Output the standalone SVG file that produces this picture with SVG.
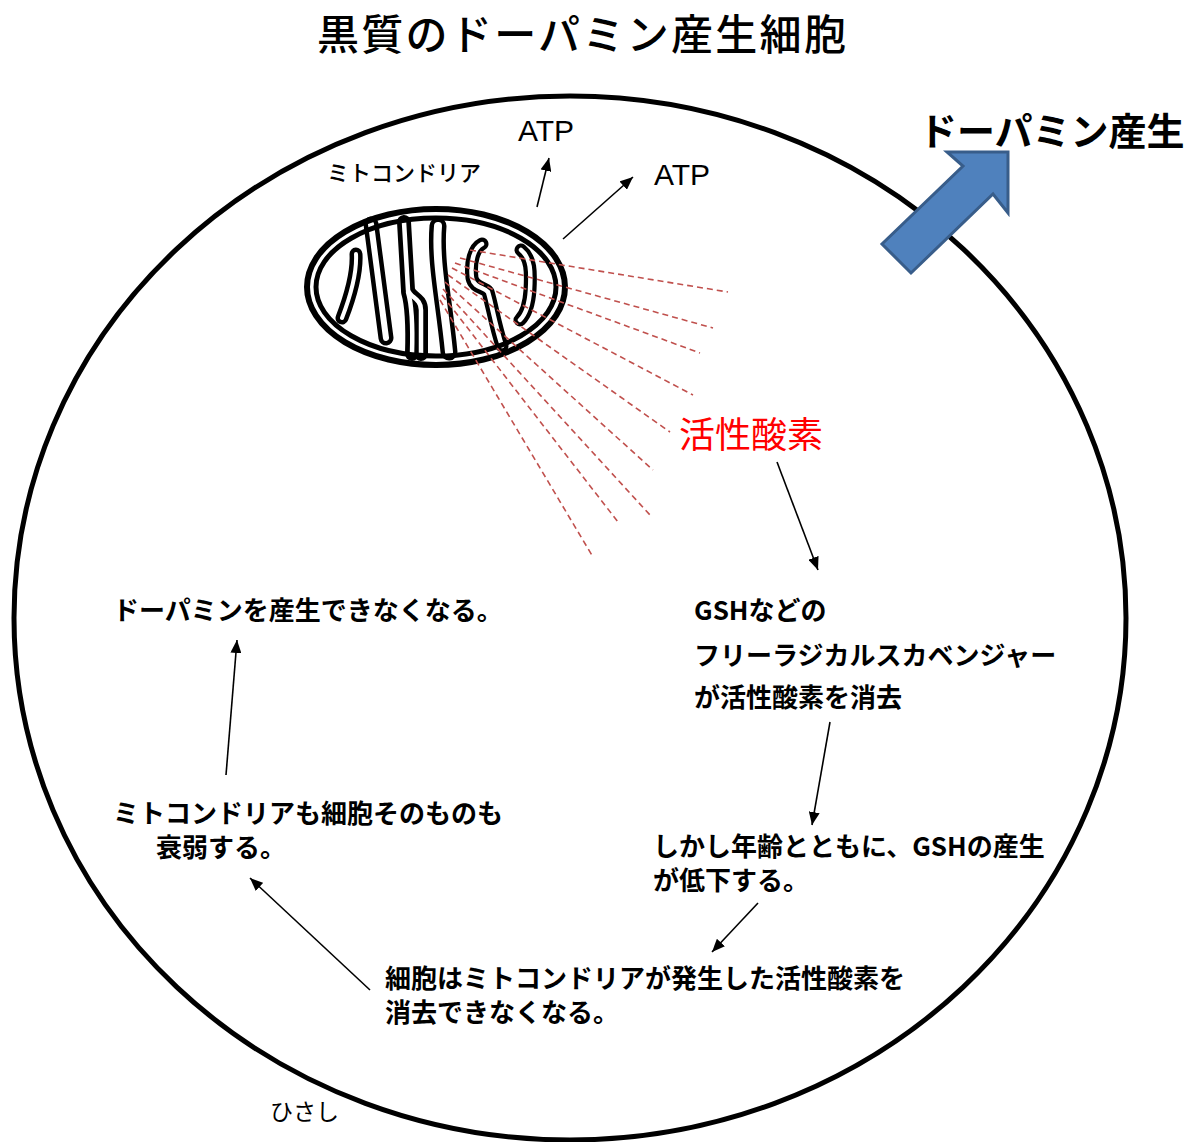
<svg xmlns="http://www.w3.org/2000/svg" xmlns:xlink="http://www.w3.org/1999/xlink" width="1197" height="1142" viewBox="0 0 1197 1142">
  <style>
    .jp { font-family: "Noto Sans CJK JP", "Liberation Sans", sans-serif; fill: #000; }
    .b { font-weight: bold; }
    .lat { font-family: "Liberation Sans", Arial, sans-serif; fill: #000; }
    .conn { stroke: #000; stroke-width: 1.6; fill: none; marker-end: url(#head); }
    .ray { stroke: #C0504D; stroke-width: 1.6; stroke-dasharray: 6 4; fill: none; }
    .cr-out { stroke: #000; fill: none; stroke-linecap: round; stroke-linejoin: round; }
    .cr-in { stroke: #fff; fill: none; stroke-linecap: round; stroke-linejoin: round; }
  </style>
  <defs>
    <marker id="head" markerUnits="userSpaceOnUse" markerWidth="13" markerHeight="11" refX="13" refY="5.5" orient="auto">
      <path d="M0,0 L13,5.5 L0,11 z" fill="#000"/>
    </marker>
    <!-- cristae centrelines -->
    <path id="c1" d="M356,254 C357,272 352,292 342,318"/>
    <path id="c2" d="M371,224 L386,338"/>
    <path id="c3" d="M404,222 L408,290 C410,298 421,298 421,310 L421,354"/>
    <path id="c3b" d="M408,292 C412,305 413,322 412,354"/>
    <path id="c4" d="M438,226 C435,262 444,300 449,352"/>
    <path id="c5" d="M482,244 C474,248 470,262 472,278 C474,288 484,287 488,292 C492,305 495,325 502,346"/>
    <path id="c6" d="M521,250 C531,258 531,272 530,290 C529,305 525,315 520,320"/>
  </defs>

  <rect width="1197" height="1142" fill="#fff"/>

  <!-- title -->
  <text class="jp" x="317" y="50" font-size="42" font-weight="500" letter-spacing="2.3">黒質のドーパミン産生細胞</text>

  <!-- cell body -->
  <g id="cell">
    <ellipse cx="570" cy="618" rx="556" ry="522" fill="none" stroke="#000" stroke-width="5"/>
  </g>

  <!-- dopamine output arrow -->
  <g id="dopamine-out">
    <polygon points="1008,152 947,152 963,166 882,244 911,273 993,194 1008,213" fill="#4F81BD" stroke="#385D8A" stroke-width="3" stroke-linejoin="miter"/>
    <text class="jp b" x="919" y="145" font-size="38">ドーパミン産生</text>
  </g>

  <!-- mitochondrion -->
  <g id="mitochondrion">
    <ellipse cx="436" cy="287" rx="125" ry="74" fill="#fff"/>
    <g class="cr-out" stroke-width="14">
      <use xlink:href="#c1" stroke-width="13"/>
      <use xlink:href="#c2" stroke-width="15"/>
      <use xlink:href="#c3"/>
      <use xlink:href="#c3b"/>
      <use xlink:href="#c4" stroke-width="17"/>
      <use xlink:href="#c5" stroke-width="13"/>
      <use xlink:href="#c6" stroke-width="13"/>
    </g>
    <g class="cr-in" stroke-width="4.5">
      <use xlink:href="#c1" stroke-width="4"/>
      <use xlink:href="#c2" stroke-width="6"/>
      <use xlink:href="#c3"/>
      <use xlink:href="#c3b"/>
      <use xlink:href="#c4" stroke-width="8"/>
      <use xlink:href="#c5"/>
      <use xlink:href="#c6"/>
    </g>
    <ellipse cx="436" cy="287" rx="129" ry="78" fill="none" stroke="#000" stroke-width="6"/>
    <ellipse cx="436" cy="287" rx="120" ry="69" fill="none" stroke="#000" stroke-width="5"/>
    <text class="jp" x="327" y="181" font-size="22" font-weight="500">ミトコンドリア</text>
  </g>

  <!-- reactive oxygen rays -->
  <g id="ros-rays">
    <path class="ray" d="M470,250 L728,292"/>
    <path class="ray" d="M460,258 L713,328"/>
    <path class="ray" d="M455,263 L700,353"/>
    <path class="ray" d="M452,268 L693,395"/>
    <path class="ray" d="M448,275 L670,432"/>
    <path class="ray" d="M445,282 L653,470"/>
    <path class="ray" d="M443,289 L650,515"/>
    <path class="ray" d="M442,295 L618,522"/>
    <path class="ray" d="M440,300 L593,557"/>
  </g>

  <!-- labels -->
  <g id="atp1"><text class="lat" x="518" y="141" font-size="30">ATP</text></g>
  <g id="atp2"><text class="lat" x="654" y="185" font-size="30">ATP</text></g>
  <g id="ros"><text class="jp" x="679" y="448" font-size="36" style="fill:#FF0000">活性酸素</text></g>
  <g id="gsh">
    <text class="jp b" x="694" y="620" font-size="26">GSHなどの</text>
    <text class="jp b" x="694" y="665" font-size="26">フリーラジカルスカベンジャー</text>
    <text class="jp b" x="694" y="707" font-size="26">が活性酸素を消去</text>
  </g>
  <g id="aging">
    <text class="jp b" x="653" y="856" font-size="26">しかし年齢とともに、GSHの産生</text>
    <text class="jp b" x="653" y="890" font-size="26">が低下する。</text>
  </g>
  <g id="no-clear">
    <text class="jp b" x="385" y="988" font-size="26">細胞はミトコンドリアが発生した活性酸素を</text>
    <text class="jp b" x="385" y="1022" font-size="26">消去できなくなる。</text>
  </g>
  <g id="decline">
    <text class="jp b" x="113" y="823" font-size="26">ミトコンドリアも細胞そのものも</text>
    <text class="jp b" x="156" y="857" font-size="26">衰弱する。</text>
  </g>
  <g id="no-dopamine">
    <text class="jp b" x="113" y="620" font-size="26">ドーパミンを産生できなくなる。</text>
  </g>
  <g id="author"><text class="jp" x="270" y="1120" font-size="23">ひさし</text></g>

  <!-- connectors -->
  <g id="connectors">
    <path class="conn" d="M537,207 L549,158"/>
    <path class="conn" d="M563,239 L633,177"/>
    <path class="conn" d="M777,462 L818,570"/>
    <path class="conn" d="M830,722 L812,825"/>
    <path class="conn" d="M758,903 L712,952"/>
    <path class="conn" d="M370,990 L250,878"/>
    <path class="conn" d="M226,775 L237,640"/>
  </g>
</svg>
